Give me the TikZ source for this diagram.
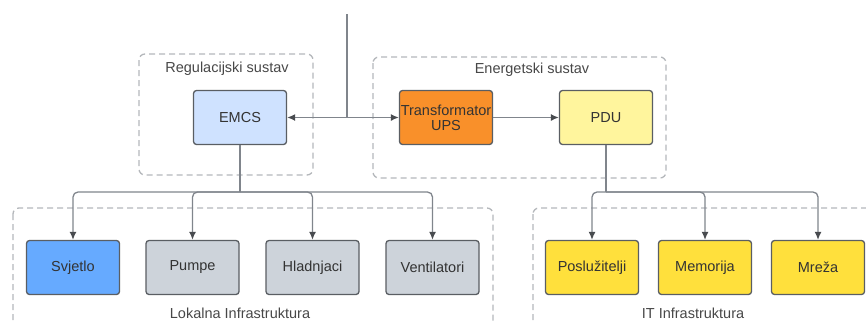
\documentclass[tikz,border=0pt]{standalone}
\usepackage{fontspec}
\setmainfont{Liberation Sans}
\usetikzlibrary{arrows.meta}
\definecolor{cEMCS}{HTML}{CFE2FF}
\definecolor{cTrans}{HTML}{F9902A}
\definecolor{cPDU}{HTML}{FFF59D}
\definecolor{cSvj}{HTML}{66AAFF}
\definecolor{cGray}{HTML}{CDD3DA}
\definecolor{cYel}{HTML}{FFE03C}
\definecolor{cBorder}{HTML}{5A5E63}
\definecolor{cLine}{HTML}{80858C}
\definecolor{cDash}{HTML}{B4B7BB}
\definecolor{cText}{HTML}{333333}
\tikzset{
  x=1pt, y=-1pt,
  box/.style={draw=cBorder, line width=1.3pt, rounded corners=3pt, minimum width=93pt, minimum height=54pt, inner sep=0pt, font=\fontsize{14.5}{15}\selectfont, text=cText, align=center},
  cont/.style={draw=cDash, line width=1.3pt, dash pattern=on 6pt off 4pt, rounded corners=6pt},
  clabel/.style={font=\fontsize{14.5}{15}\selectfont, text=cText!90},
  conn/.style={draw=cLine, line width=1.3pt},
  arr/.style={conn, -{Latex[length=8pt, width=7pt, color=cBorder!80!black]}},
}
\begin{document}
\begin{tikzpicture}
\useasboundingbox (0,0) rectangle (866,322);
\clip (0,0) rectangle (866,322);
% containers
\draw[cont] (139,54) rectangle (313,175);
\node[clabel] (lreg) at (227,69) {Regulacijski sustav};
\draw[cont] (373,57) rectangle (666,178);
\node[clabel] (lene) at (532,70) {Energetski sustav};
\draw[cont] (13,208) rectangle (493,340);
\node[clabel] (llok) at (240,313) {Lokalna Infrastruktura};
\draw[cont] (533,208) rectangle (885,340);
\node[clabel] (lit) at (693,313) {IT Infrastruktura};
% boxes
\node[box, fill=cEMCS] (emcs) at (240,117.5) {EMCS};
\node[box, fill=cTrans] (trans) at (446,117.5) {Transformator\\UPS};
\node[box, fill=cPDU] (pdu) at (606,117.5) {PDU};
\node[box, fill=cSvj] (svj) at (73,267.5) {Svjetlo};
\node[box, fill=cGray] (pum) at (192.5,267.5) {Pumpe};
\node[box, fill=cGray] (hla) at (312.5,267.5) {Hladnjaci};
\node[box, fill=cGray] (ven) at (432.5,267.5) {Ventilatori};
\node[box, fill=cYel] (pos) at (592,267.5) {Poslužitelji};
\node[box, fill=cYel] (mem) at (705,267.5) {Memorija};
\node[box, fill=cYel] (mre) at (818,267.5) {Mreža};
% connectors
\coordinate (top) at (347,14);
\coordinate (junc) at (347,117.5);
\draw[conn] (top) -- (junc);
\draw[arr] (junc) -- (emcs.east);
\draw[arr] (junc) -- (trans.west);
\draw[arr] (trans.east) -- (pdu.west);
\coordinate (busL) at (240,192);
\coordinate (busR) at (606,192);
\draw[conn] (emcs.south) -- (busL);
\draw[conn] (pdu.south) -- (busR);
\draw[arr, rounded corners=5pt] (busL) -| (svj.north);
\draw[arr, rounded corners=5pt] (busL) -| (pum.north);
\draw[arr, rounded corners=5pt] (busL) -| (hla.north);
\draw[arr, rounded corners=5pt] (busL) -| (ven.north);
\draw[arr, rounded corners=5pt] (busR) -| (pos.north);
\draw[arr, rounded corners=5pt] (busR) -| (mem.north);
\draw[arr, rounded corners=5pt] (busR) -| (mre.north);
\end{tikzpicture}
\end{document}
